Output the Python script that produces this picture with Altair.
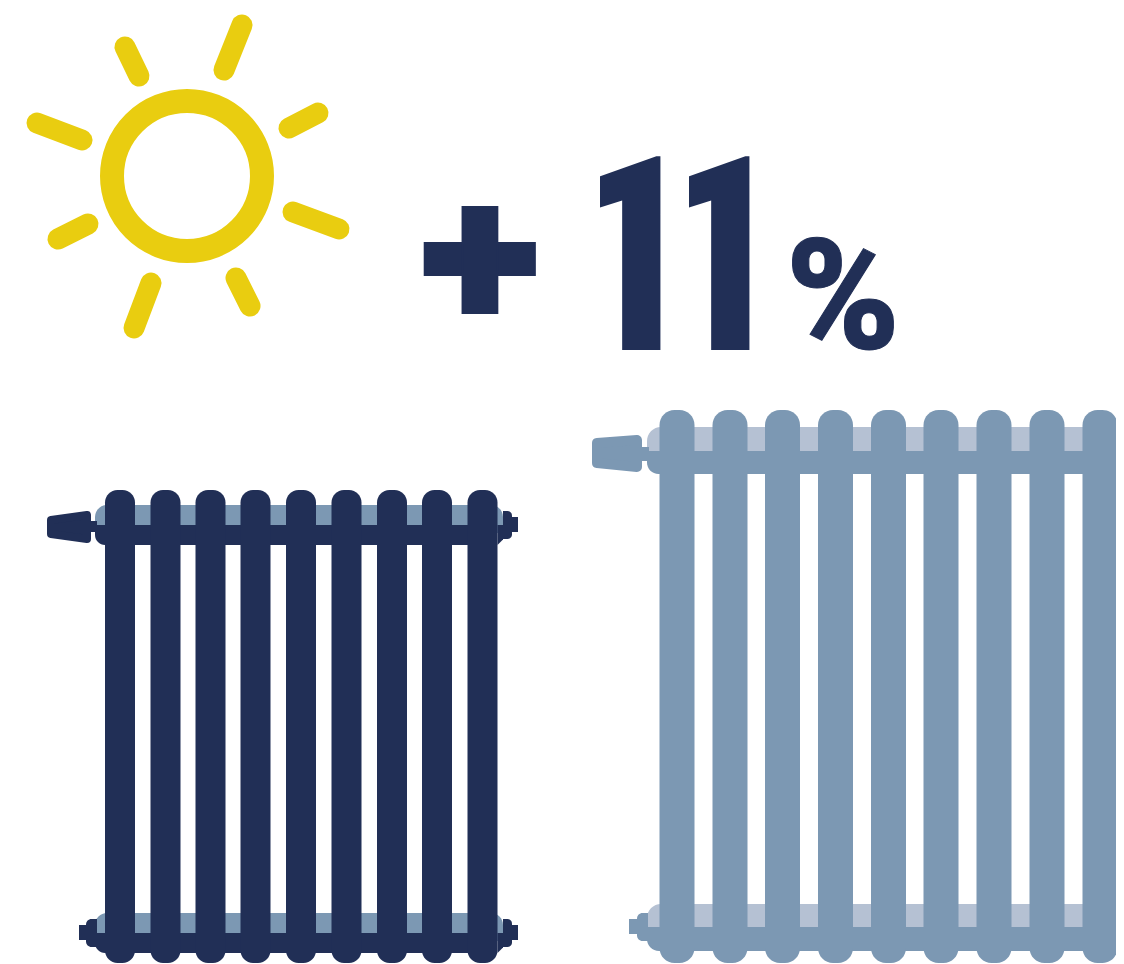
import altair as alt
import pandas as pd

NAVY = "#212F56"
STEEL = "#7C98B3"
PALE = "#B5C1D3"
YELLOW = "#E9CD10"

# --- picture coordinates (scale domain = window pixels)
sun_x = [187]
sun_y = [176]
ray_x1 = [242, 125, 37, 289, 293, 58, 134, 236]
ray_y1 = [25, 47, 123, 128, 212, 239, 328, 278]
ray_x2 = [224, 139, 82, 318, 339, 88, 151, 250]
ray_y2 = [70, 76, 140, 113, 229, 224, 283, 306]

dark_cols = [120, 165.5, 210.5, 255.5, 301, 346.5, 392, 437, 482.5]
light_cols = [677, 730, 782.5, 835.5, 888.5, 941, 994, 1047, 1100]

labels = ["+", "1", "1", "%"]
label_x = [480, 632, 721, 843]
label_y = [334, 350, 350, 349]
label_size = [226, 272, 272, 154]
label_weight = [900, 700, 700, 900]
label_stroke = [2, 0, 0, 1]

# white trims that square off the glyphs to the reference's outline
trim_x1 = [400, 400, 560, 662]
trim_x2 = [560, 560, 600, 689]
trim_y1 = [190, 314, 150, 150]
trim_y2 = [206, 330, 225, 225]

sx = alt.Scale(domain=[8, 1116], nice=False, zero=False)
sy = alt.Scale(domain=[964, 8], nice=False, zero=False)


def X(f="x"):
    return alt.X(f"{f}:Q", scale=sx, axis=None, title=None)


def Y(f="y"):
    return alt.Y(f"{f}:Q", scale=sy, axis=None, title=None)


def rect(x, x2, y, y2, color, **corners):
    d = pd.DataFrame({"x": [x], "x2": [x2], "y": [y], "y2": [y2]})
    return alt.Chart(d).mark_bar(color=color, **corners).encode(
        x=X(), x2="x2:Q", y=Y(), y2="y2:Q"
    )


def columns(xs, half, top, bottom, color, r):
    d = pd.DataFrame({
        "x": [v - half for v in xs], "x2": [v + half for v in xs],
        "y": [top] * len(xs), "y2": [bottom] * len(xs),
    })
    return alt.Chart(d).mark_bar(color=color, cornerRadius=r).encode(
        x=X(), x2="x2:Q", y=Y(), y2="y2:Q"
    )


def wedge(xs, tops, bottoms, color, stroke=0):
    d = pd.DataFrame({"x": xs, "y": tops, "y2": bottoms})
    return alt.Chart(d).mark_area(
        color=color, interpolate="linear", stroke=color,
        strokeWidth=stroke, strokeJoin="round", clip=True
    ).encode(x=X(), y=Y(), y2="y2:Q")


# --- sun
sun = alt.Chart(pd.DataFrame({"x": sun_x, "y": sun_y})).mark_point(
    size=22500, filled=False, stroke=YELLOW, strokeWidth=24, opacity=1
).encode(x=X(), y=Y())
rays = alt.Chart(pd.DataFrame({"x": ray_x1, "y": ray_y1, "x2": ray_x2, "y2": ray_y2})).mark_rule(
    color=YELLOW, strokeWidth=21, strokeCap="round"
).encode(x=X(), y=Y(), x2="x2:Q", y2="y2:Q")

# --- text
texts = []
for t, tx, ty, ts, tw, tk in zip(labels, label_x, label_y, label_size, label_weight, label_stroke):
    texts.append(
        alt.Chart(pd.DataFrame({"x": [tx], "y": [ty], "t": [t]})).mark_text(
            font="Roboto", fontWeight=tw, fontSize=ts, color=NAVY,
            stroke=NAVY, strokeWidth=tk, align="center", baseline="alphabetic"
        ).encode(x=X(), y=Y(), text="t:N")
    )
trims = alt.Chart(pd.DataFrame({"x": trim_x1, "x2": trim_x2, "y": trim_y1, "y2": trim_y2})).mark_bar(
    color="white"
).encode(x=X(), x2="x2:Q", y=Y(), y2="y2:Q")


def radiator(cols, half, main, band, xl, xr, t_top, t_mid, t_bot, b_top, b_mid, b_bot,
             col_top, col_bot, valve_x, valve_t, valve_b, valve_stroke, stem, cap_t, cap_b, nub_t, nub_b,
             bot_cap_l, bot_nub_l, right_cap, right_nub, r, col_r):
    return [
        rect(xl, xr, t_top, t_mid + 8, band, cornerRadiusTopLeft=r, cornerRadiusTopRight=r),
        rect(xl, xr, b_top, b_mid + 8, band, cornerRadiusTopLeft=r, cornerRadiusTopRight=r),
        rect(xl, cols[-1], t_mid, t_bot, main, cornerRadiusBottomLeft=r),
        rect(xl, cols[-1], b_mid, b_bot, main, cornerRadiusBottomLeft=r),
        wedge([cols[-1] + half, xr], [t_mid, t_mid], [t_bot, t_bot - (xr - cols[-1] - half)], main),
        wedge([cols[-1] + half, xr], [b_mid, b_mid], [b_bot, b_bot - (xr - cols[-1] - half)], main),
        wedge(valve_x, valve_t, valve_b, main, stroke=valve_stroke),
        rect(stem[0], stem[1], stem[2], stem[3], main),
        rect(bot_nub_l[0], bot_nub_l[1], b_mid - 8, b_mid + 7, main),
        rect(bot_cap_l[0], bot_cap_l[1], b_mid - 14, b_mid + 14, main,
             cornerRadiusTopLeft=10, cornerRadiusBottomLeft=10),
        rect(right_nub[0], right_nub[1], nub_t, nub_b, main),
        rect(right_nub[0], right_nub[1], b_mid - 8, b_mid + 7, main),
        rect(right_cap[0], right_cap[1], cap_t, cap_b, main,
             cornerRadiusTopRight=10, cornerRadiusBottomRight=10),
        rect(right_cap[0], right_cap[1], b_mid - 14, b_mid + 14, main,
             cornerRadiusTopRight=10, cornerRadiusBottomRight=10),
        columns(cols, half, col_top, col_bot, main, col_r),
    ]


dark = radiator(
    dark_cols, 15, NAVY, STEEL, 95, 503, 505, 525, 545, 913, 933, 953, 490, 963,
    [51, 87], [520, 515], [534, 539], 8, (90, 97, 521, 532), 511, 539, 517, 532,
    (86, 97), (79, 87), (503, 512), (511, 518), 12, 12.5,
)
light = radiator(
    light_cols, 17.5, STEEL, PALE, 647, 1124, 427, 451, 474, 904, 927, 951, 410, 963,
    [597, 637], [443, 440], [463, 467], 10, (641, 649, 447, 461), 436, 464, 443, 458,
    (637, 648), (629, 638), (1120, 1130), (1130, 1131), 14, 15,
)

chart = alt.layer(sun, rays, *texts, trims, *dark, *light).properties(
    width=1108, height=956, padding=0, background="white",
    autosize=alt.AutoSizeParams(type="none"),
).configure_view(stroke=None)

chart.save("out.html", embed_options={"renderer": "svg", "actions": False})
